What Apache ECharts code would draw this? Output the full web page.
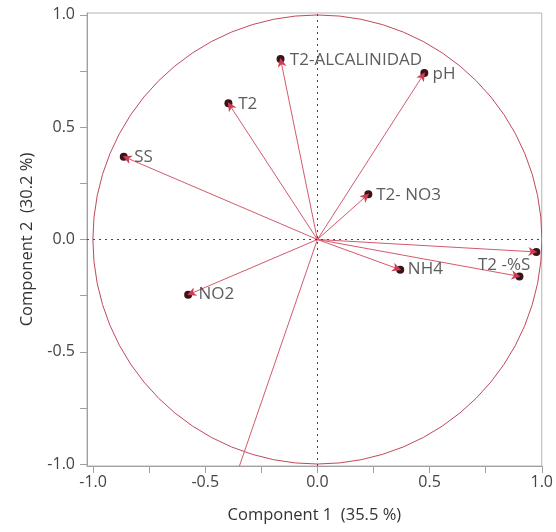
<!DOCTYPE html>
<html>
<head>
<meta charset="utf-8">
<script src="https://cdn.jsdelivr.net/npm/echarts@6/dist/echarts.min.js"></script>
<style>
  html, body { margin: 0; padding: 0; background: #fff; }
  #chart { width: 556px; height: 532px; }
</style>
</head>
<body>
<div id="chart"></div>
<script>
// Loading plot: variable names and their loadings on the first two components
const variables  = ['T2-ALCALINIDAD', 'pH', 'T2', 'SS', 'T2- NO3', 'NH4', 'T2 -%S', '', 'NO2', ''];
const component1 = [-0.163, 0.473, -0.393, -0.857, 0.222, 0.363, 0.894, 0.969, -0.570, -0.362];
const component2 = [ 0.797, 0.735,  0.601,  0.366, 0.197, -0.132, -0.163, -0.055, -0.243, -1.050];

// Axis ticks
const majorTicks = [-1.0, -0.5, 0.0, 0.5, 1.0];
const minorTicks = [-1.0, -0.75, -0.5, -0.25, 0.0, 0.25, 0.5, 0.75, 1.0];

const FONT = 'Open Sans';
const VEC_COLOR = '#d45a6c';
const HEAD_COLOR = '#d23c50';
const DOT_COLOR = '#3a1418';
const CIRCLE_COLOR = '#c2485c';

const loadings = component1.map((x, i) => [x, component2[i]]);

const labelled = variables.map((name, i) => {
  const item = { name: name, value: [component1[i], component2[i]] };
  if (name === 'T2 -%S') {
    // placed up and to the left of its point, over the vector
    item.label = { position: [-36, -15], align: 'left', verticalAlign: 'top' };
  }
  return item;
});

const axisCommon = {
  type: 'value',
  nameLocation: 'middle',
  nameTextStyle: { color: '#333', fontSize: 16.5, fontFamily: FONT },
  axisLine: { show: true, onZero: false, lineStyle: { color: '#a0a0a0', width: 1 } },
  axisTick: { show: true, inside: false, length: 7, customValues: minorTicks,
              lineStyle: { color: '#a0a0a0', width: 1 } },
  axisLabel: { customValues: majorTicks, color: '#444', fontSize: 16, fontFamily: FONT,
               formatter: v => v.toFixed(1) },
  splitLine: { show: false }
};

// one vector: line from the origin, dark end dot, red arrow head on top
function renderVector(params, api) {
  const o = api.coord([0, 0]);
  const p = api.coord([api.value(0), api.value(1)]);
  const dx = p[0] - o[0], dy = p[1] - o[1];
  const len = Math.sqrt(dx * dx + dy * dy) || 1;
  const ux = dx / len, uy = dy / len;
  const nx = -uy, ny = ux;
  const at = (a, b) => [p[0] + ux * a + nx * b, p[1] + uy * a + ny * b];
  return {
    type: 'group',
    children: [
      { type: 'line', shape: { x1: o[0], y1: o[1], x2: p[0], y2: p[1] },
        style: { stroke: VEC_COLOR, lineWidth: 1 } },
      { type: 'circle', shape: { cx: p[0] + ux * 1.5, cy: p[1] + uy * 1.5, r: 4 },
        style: { fill: DOT_COLOR } },
      { type: 'polygon', shape: { points: [at(2.5, 0), at(-6.5, 4.5), at(-4, 0), at(-6.5, -4.5)] },
        style: { fill: HEAD_COLOR } }
    ]
  };
}

const chart = echarts.init(document.getElementById('chart'), null, { renderer: 'canvas' });
chart.setOption({
  animation: false,
  backgroundColor: '#fff',
  grid: {
    left: 87, right: 14, top: 13, bottom: 66,
    show: true, borderColor: '#b4b4b4', borderWidth: 1, backgroundColor: 'transparent'
  },
  xAxis: Object.assign({}, axisCommon, {
    min: -1.027, max: 1.0,
    name: 'Component 1  (35.5 %)',
    nameGap: 41,
    axisLabel: Object.assign({}, axisCommon.axisLabel, { margin: 8 })
  }),
  yAxis: Object.assign({}, axisCommon, {
    min: -1.008, max: 1.008,
    name: 'Component 2  (30.2 %)',
    nameGap: 51,
    axisLabel: Object.assign({}, axisCommon.axisLabel, { margin: 12 })
  }),
  series: [
    {
      // unit circle of the correlation plot
      type: 'custom',
      silent: true,
      clip: true,
      z: 1,
      data: [[0, 0]],
      renderItem: function (params, api) {
        const c = api.coord([0, 0]);
        const s = api.size([1, 1]);
        return {
          type: 'circle',
          shape: { cx: c[0], cy: c[1], r: (s[0] + s[1]) / 2 },
          style: { fill: 'none', stroke: CIRCLE_COLOR, lineWidth: 1 }
        };
      }
    },
    {
      // dotted reference lines through the origin
      type: 'scatter',
      data: [],
      silent: true,
      markLine: {
        silent: true,
        symbol: ['none', 'none'],
        label: { show: false },
        lineStyle: { color: '#6e343c', width: 1, type: [2, 4] },
        data: [{ xAxis: 0 }, { yAxis: 0 }]
      }
    },
    {
      // loading vectors
      type: 'custom',
      silent: true,
      clip: true,
      z: 3,
      data: loadings,
      renderItem: renderVector
    },
    {
      // variable names next to the vector ends
      type: 'scatter',
      silent: true,
      z: 4,
      symbol: 'circle',
      symbolSize: 8,
      itemStyle: { color: 'rgba(0,0,0,0)' },
      label: {
        show: true,
        position: 'right',
        distance: 5,
        formatter: p => p.name,
        color: '#333',
        fontSize: 17,
        fontFamily: FONT
      },
      labelLayout: { hideOverlap: false },
      data: labelled
    }
  ]
});
</script>
</body>
</html>
